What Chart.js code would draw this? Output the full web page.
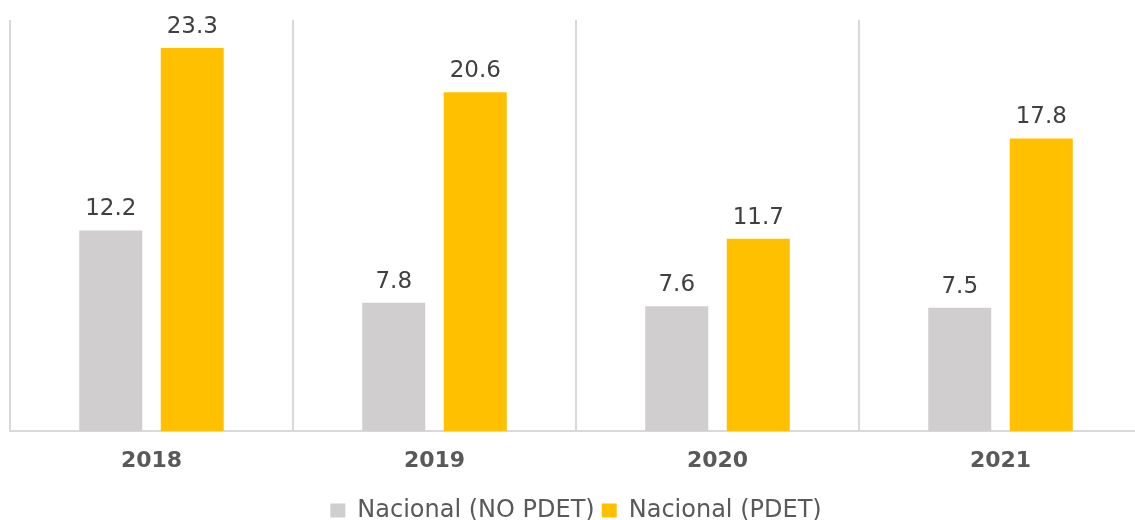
<!DOCTYPE html>
<html>
<head>
<meta charset="utf-8">
<script src="https://cdn.jsdelivr.net/npm/chart.js@4/dist/chart.umd.min.js"></script>
<style>
  html, body { margin: 0; padding: 0; background: #ffffff; overflow: hidden; }
  #wrap { position: relative; width: 1150px; height: 535px; }
</style>
</head>
<body>
<div id="wrap"><canvas id="c"></canvas></div>
<script>
const categories = ['2018', '2019', '2020', '2021'];
const seriesNames = ['Nacional (NO PDET)', 'Nacional (PDET)'];
const noPdetValues = [12.2, 7.8, 7.6, 7.5];
const pdetValues = [23.3, 20.6, 11.7, 17.8];

const FONT = "'DejaVu Sans', sans-serif";

const valueLabels = {
  id: 'valueLabels',
  afterDatasetsDraw(chart) {
    const ctx = chart.ctx;
    ctx.save();
    ctx.font = '23px ' + FONT;
    ctx.fillStyle = '#404040';
    ctx.textAlign = 'center';
    ctx.textBaseline = 'alphabetic';
    chart.data.datasets.forEach((ds, i) => {
      const meta = chart.getDatasetMeta(i);
      meta.data.forEach((bar, j) => {
        ctx.fillText(ds.data[j].toFixed(1), bar.x, bar.y - 15);
      });
    });
    ctx.restore();
  }
};

new Chart(document.getElementById('c'), {
  type: 'bar',
  data: {
    labels: categories,
    datasets: [
      { label: seriesNames[0], data: noPdetValues, backgroundColor: '#D0CECE',
        categoryPercentage: 0.576, barPercentage: 0.773 },
      { label: seriesNames[1], data: pdetValues, backgroundColor: '#FFC000',
        categoryPercentage: 0.576, barPercentage: 0.773 }
    ]
  },
  options: {
    responsive: true,
    maintainAspectRatio: false,
    animation: false,
    devicePixelRatio: 1,
    layout: { padding: { left: 10, right: 8, top: 20, bottom: 2.5 } },
    plugins: {
      legend: {
        position: 'bottom',
        labels: {
          font: { family: FONT, size: 24 },
          color: '#595959',
          boxWidth: 15,
          boxHeight: 14,
          padding: 7
        }
      },
      tooltip: { enabled: false }
    },
    scales: {
      x: {
        grid: { display: true, offset: true, color: '#d9d9d9', lineWidth: 2, drawTicks: false },
        border: { display: true, color: '#d9d9d9', width: 2 },
        ticks: { font: { family: FONT, size: 22, weight: 'bold' }, color: '#595959', padding: 17 }
      },
      y: {
        display: false,
        min: 0,
        max: 25
      }
    }
  },
  plugins: [valueLabels]
});
</script>
</body>
</html>
